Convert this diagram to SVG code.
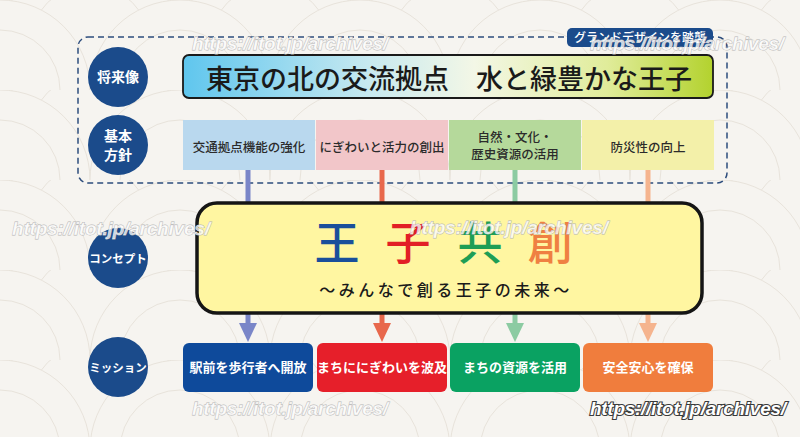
<svg xmlns="http://www.w3.org/2000/svg" width="800" height="437" viewBox="0 0 800 437">
<style>
.jp{font-family:"Noto Sans CJK JP","Noto Sans",sans-serif}
.circ{fill:#1b4b8b}
.ct{fill:#fff;font-weight:700;text-anchor:middle}
.pol{font-size:12.5px;font-weight:500;fill:#2b2b2b;text-anchor:middle}
.mis{font-size:13px;font-weight:700;fill:#fff;text-anchor:middle}
.big{font-size:45px;font-weight:500;text-anchor:middle}
.wm{font-family:"Liberation Sans",Arial,sans-serif;font-style:italic;font-weight:700;font-size:19px;fill:#fff;fill-opacity:0.75;stroke:#b5b5b5;stroke-width:0.8;paint-order:stroke}
.wm2{font-family:"Liberation Sans",Arial,sans-serif;font-style:italic;font-weight:700;font-size:19px;fill:#fff;stroke:#3a3a3a;stroke-width:2.2;paint-order:stroke}
.conn{fill:none;stroke-width:5}
</style>
<defs>
<pattern id="wave" x="0" y="0" width="180" height="90" patternUnits="userSpaceOnUse">
<rect width="180" height="90" fill="#f6f4f0"/>
<g fill="#f6f4f0" stroke="#e8e3db" stroke-width="1">
<circle cx="0" cy="0" r="90"/><circle cx="0" cy="0" r="60"/>
<circle cx="180" cy="0" r="90"/><circle cx="180" cy="0" r="60"/>
<circle cx="90" cy="45" r="90"/><circle cx="90" cy="45" r="60"/>
<circle cx="0" cy="90" r="90"/><circle cx="0" cy="90" r="60"/>
<circle cx="180" cy="90" r="90"/><circle cx="180" cy="90" r="60"/>
</g>
</pattern>
<linearGradient id="titleGrad" x1="0" y1="0" x2="1" y2="0">
<stop offset="0" stop-color="#5fc6ee"/>
<stop offset="0.35" stop-color="#c7e9f0"/>
<stop offset="0.55" stop-color="#f3f7e6"/>
<stop offset="0.8" stop-color="#e0ec9a"/>
<stop offset="1" stop-color="#b3d22e"/>
</linearGradient>
<marker id="aB" viewBox="0 -9 19 18" refX="0" refY="0" markerWidth="19" markerHeight="18" markerUnits="userSpaceOnUse" orient="auto"><path d="M0,-9 L19,0 L0,9 z" fill="#7a86c8"/></marker>
<marker id="aR" viewBox="0 -9 19 18" refX="0" refY="0" markerWidth="19" markerHeight="18" markerUnits="userSpaceOnUse" orient="auto"><path d="M0,-9 L19,0 L0,9 z" fill="#e8684c"/></marker>
<marker id="aG" viewBox="0 -9 19 18" refX="0" refY="0" markerWidth="19" markerHeight="18" markerUnits="userSpaceOnUse" orient="auto"><path d="M0,-9 L19,0 L0,9 z" fill="#8ccba2"/></marker>
<marker id="aO" viewBox="0 -9 19 18" refX="0" refY="0" markerWidth="19" markerHeight="18" markerUnits="userSpaceOnUse" orient="auto"><path d="M0,-9 L19,0 L0,9 z" fill="#f5b48e"/></marker>
</defs>

<rect width="800" height="437" fill="url(#wave)"/>

<!-- dashed frame -->
<rect x="78" y="37" width="649" height="146" rx="10" fill="none" stroke="#2c4c7c" stroke-width="1.5" stroke-dasharray="6 4"/>

<g id="connectors">
<path class="conn" d="M248,170 V323" stroke="#7a86c8" marker-end="url(#aB)"/>
<path class="conn" d="M382,170 V323" stroke="#e8684c" marker-end="url(#aR)"/>
<path class="conn" d="M515,170 V323" stroke="#8ccba2" marker-end="url(#aG)"/>
<path class="conn" d="M648,170 V323" stroke="#f5b48e" marker-end="url(#aO)"/>
</g>

<g id="tab">
<rect x="567" y="28" width="146" height="19" rx="5" fill="#1b4b8b"/>
<text class="jp" x="640" y="42" font-size="12" font-weight="500" fill="#fff" text-anchor="middle">グランドデザインを踏襲</text>
</g>

<g id="label-vision"><circle class="circ" cx="118" cy="77" r="30"/><text class="jp ct" x="118" y="82" font-size="14">将来像</text></g>
<g id="label-policy"><circle class="circ" cx="118" cy="145" r="30"/><text class="jp ct" x="118" y="141" font-size="14">基本</text><text class="jp ct" x="118" y="160" font-size="14">方針</text></g>
<g id="label-concept"><circle class="circ" cx="118" cy="258" r="30"/><text class="jp ct" x="118" y="262.5" font-size="11.5">コンセプト</text></g>
<g id="label-mission"><circle class="circ" cx="118" cy="367" r="30"/><text class="jp ct" x="118" y="371.5" font-size="11.5">ミッション</text></g>

<g id="vision">
<rect x="183" y="55" width="530" height="43" rx="6" fill="url(#titleGrad)" stroke="#1a1a1a" stroke-width="1.8"/>
<text class="jp" x="449" y="89" font-size="27" font-weight="500" fill="#1a1a1a" text-anchor="middle">東京の北の交流拠点　水と緑豊かな王子</text>
</g>

<g id="policy1"><rect x="183" y="120" width="132" height="50" fill="#b9d8ee"/><text class="jp pol" x="249" y="151.5">交通拠点機能の強化</text></g>
<g id="policy2"><rect x="316" y="120" width="132" height="50" fill="#f2c6c9"/><text class="jp pol" x="382" y="151.5">にぎわいと活力の創出</text></g>
<g id="policy3"><rect x="449" y="120" width="132" height="50" fill="#b5d99b"/><text class="jp pol" x="515" y="141.5">自然・文化・</text><text class="jp pol" x="515" y="158.5">歴史資源の活用</text></g>
<g id="policy4"><rect x="582" y="120" width="132" height="50" fill="#f3f0a9"/><text class="jp pol" x="648" y="151.5">防災性の向上</text></g>

<g id="concept">
<rect x="197" y="203" width="505" height="110" rx="20" fill="#fff6a1" stroke="#151515" stroke-width="3.5"/>
<text class="jp big" x="337" y="260" fill="#1a4f9b">王</text>
<text class="jp big" x="408" y="260" fill="#e21f26">子</text>
<text class="jp big" x="480" y="260" fill="#1e9e55">共</text>
<text class="jp big" x="550" y="260" fill="#ef8042">創</text>
<text class="jp" x="446" y="296" font-size="16" font-weight="500" fill="#1a1a1a" text-anchor="middle" letter-spacing="3.5">～みんなで創る王子の未来～</text>
</g>

<g id="mission1"><rect x="183" y="343" width="130" height="49" rx="6" fill="#0e4a9b"/><text class="jp mis" x="248" y="372">駅前を歩行者へ開放</text></g>
<g id="mission2"><rect x="317" y="343" width="130" height="49" rx="6" fill="#e61f2a"/><text class="jp mis" x="382" y="372" font-size="12.6">まちににぎわいを波及</text></g>
<g id="mission3"><rect x="450" y="343" width="130" height="49" rx="6" fill="#0aa262"/><text class="jp mis" x="515" y="372">まちの資源を活用</text></g>
<g id="mission4"><rect x="583" y="343" width="130" height="49" rx="6" fill="#f07d3d"/><text class="jp mis" x="648" y="372">安全安心を確保</text></g>

<g id="watermarks">
<text class="wm" x="192" y="50" textLength="196">https://itot.jp/archives/</text>
<text class="wm" x="590" y="50" textLength="194">https://itot.jp/archives/</text>
<text class="wm" x="12" y="235" textLength="198">https://itot.jp/archives/</text>
<text class="wm" x="410" y="234" textLength="198">https://itot.jp/archives/</text>
<text class="wm" x="192" y="415" textLength="196">https://itot.jp/archives/</text>
<text class="wm2" x="590" y="415" textLength="196">https://itot.jp/archives/</text>
</g>
</svg>
